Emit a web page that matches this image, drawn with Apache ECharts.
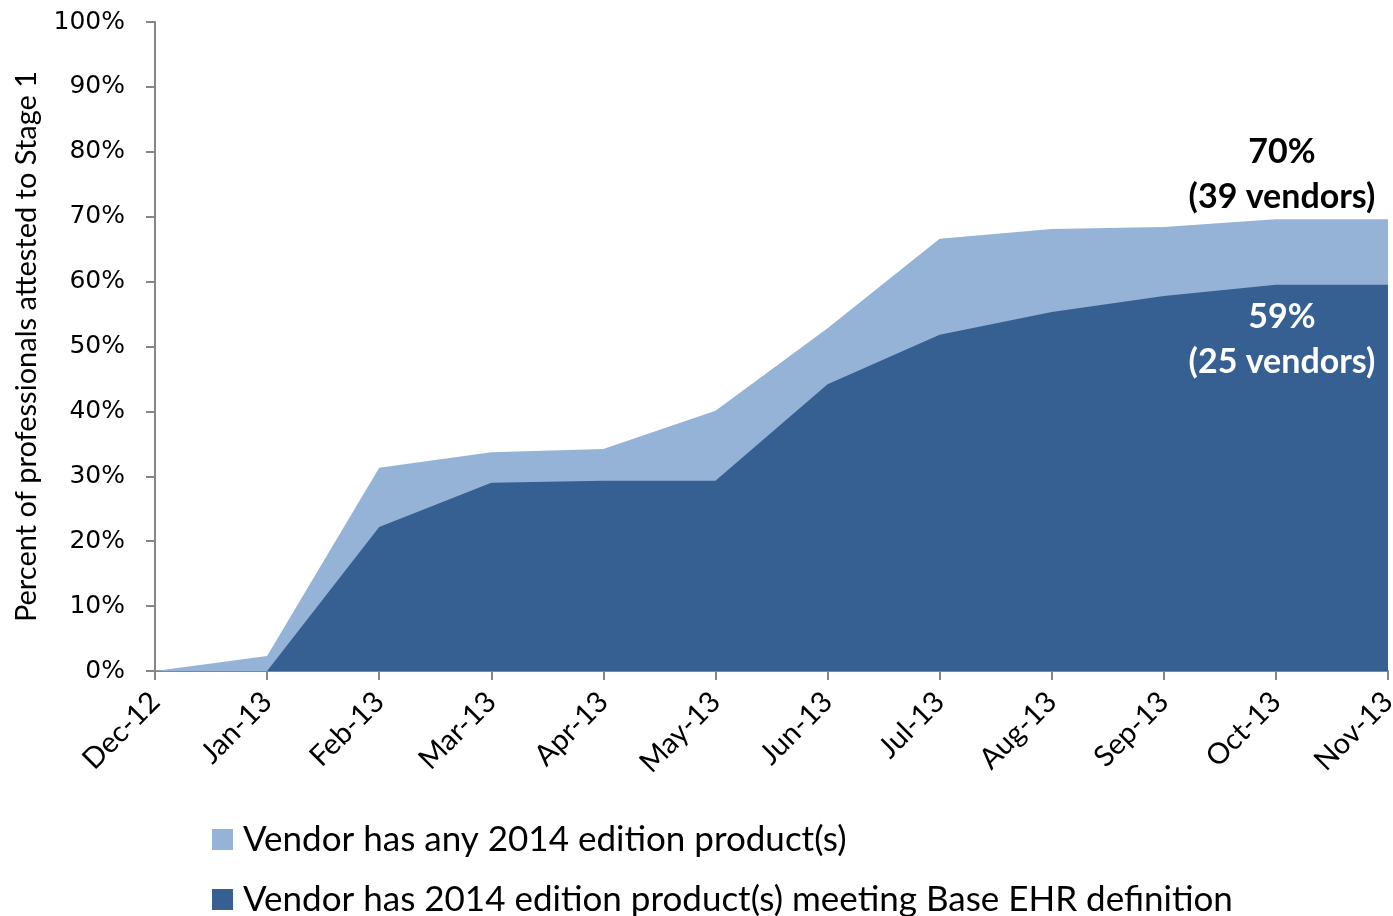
<!DOCTYPE html>
<html>
<head>
<meta charset="utf-8">
<script src="https://cdn.jsdelivr.net/npm/echarts@6/dist/echarts.min.js"></script>
<style>html,body{margin:0;padding:0;background:#fff;}#c{width:1393px;height:916px;}</style>
</head>
<body>
<div id="c"></div>
<script>
const categories = ['Dec-12','Jan-13','Feb-13','Mar-13','Apr-13','May-13','Jun-13','Jul-13','Aug-13','Sep-13','Oct-13','Nov-13'];
const anyEdition = [0, 2.3, 31.3, 33.7, 34.2, 40.1, 52.8, 66.6, 68.1, 68.4, 69.6, 69.6];
const baseEHR = [0, 0, 22.2, 29.0, 29.3, 29.3, 44.2, 51.8, 55.3, 57.8, 59.5, 59.5];
const seriesNames = ['Vendor has any 2014 edition product(s)', 'Vendor has 2014 edition product(s) meeting Base EHR definition'];
const yTicks = [0,10,20,30,40,50,60,70,80,90,100];
const anyLabel = '70%\n(39 vendors)';
const baseLabel = '59%\n(25 vendors)';

const font = 'Lato, "Open Sans", sans-serif';

function withLastLabel(arr, text, cfg) {
  return arr.map((v, i) => i === arr.length - 1 ? { value: v, label: Object.assign({ show: true, formatter: text }, cfg) } : v);
}

const legendCommon = {
  orient: 'vertical',
  left: 212,
  padding: 0,
  itemWidth: 21, itemHeight: 21, itemGap: 10,
  icon: 'rect',
  textStyle: { fontSize: 35, color: '#000', fontFamily: font, padding: [0, 0, 0, 5] }
};

const chart = echarts.init(document.getElementById('c'), null, { renderer: 'canvas' });
chart.setOption({
  animation: false,
  backgroundColor: '#ffffff',
  grid: { left: 155, right: 5, top: 22, bottom: 245, outerBoundsMode: 'none', containLabel: false },
  xAxis: {
    type: 'category',
    data: categories,
    boundaryGap: false,
    axisLine: { lineStyle: { color: '#868686', width: 2 } },
    axisTick: { show: true, alignWithLabel: true, length: 9, lineStyle: { color: '#868686', width: 2 } },
    axisLabel: { rotate: 45, fontSize: 29, color: '#000', fontFamily: font, margin: 26 },
    splitLine: { show: false }
  },
  yAxis: {
    type: 'value',
    min: 0, max: 100, interval: 10,
    name: 'Percent of professionals attested to Stage 1',
    nameLocation: 'middle',
    nameGap: 114,
    nameTextStyle: { fontSize: 29, color: '#000', fontFamily: font },
    axisLine: { show: true, lineStyle: { color: '#868686', width: 2 } },
    axisTick: { show: true, length: 9, lineStyle: { color: '#868686', width: 2 } },
    axisLabel: { fontSize: 25, color: '#000', fontFamily: '"DejaVu Sans", Verdana, sans-serif', margin: 30,
      formatter: v => yTicks.includes(v) ? v + '%' : '' },
    splitLine: { show: false }
  },
  legend: [
    Object.assign({ top: 822, data: [seriesNames[0]] }, legendCommon),
    Object.assign({ top: 882, data: [seriesNames[1]] }, legendCommon)
  ],
  series: [
    {
      name: seriesNames[0], type: 'line', symbol: 'circle', symbolSize: 0, showSymbol: true,
      lineStyle: { width: 0 }, itemStyle: { color: '#95B3D7' },
      areaStyle: { color: '#95B3D7', opacity: 1 },
      data: withLastLabel(anyEdition, anyLabel, { position: 'top', distance: 0, offset: [-106, 0], color: '#000', fontSize: 34, fontWeight: 'bold', lineHeight: 45, fontFamily: font, align: 'center' }),
      z: 2
    },
    {
      name: seriesNames[1], type: 'line', symbol: 'circle', symbolSize: 0, showSymbol: true,
      lineStyle: { width: 0 }, itemStyle: { color: '#376092' },
      areaStyle: { color: '#376092', opacity: 1 },
      data: withLastLabel(baseEHR, baseLabel, { position: 'bottom', distance: 10, offset: [-106, 0], color: '#fff', fontSize: 34, fontWeight: 'bold', lineHeight: 45, fontFamily: font, align: 'center' }),
      z: 3
    }
  ]
});
</script>
</body>
</html>
